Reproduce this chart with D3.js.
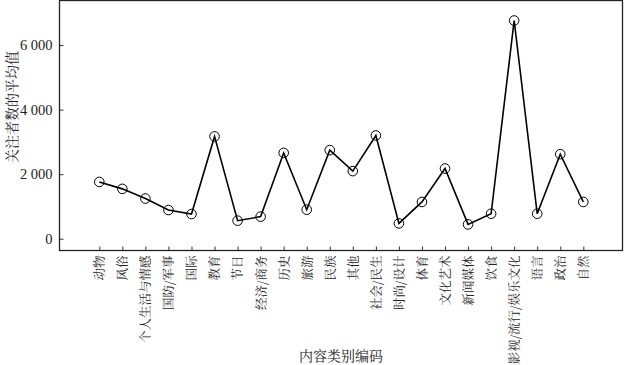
<!DOCTYPE html>
<html><head><meta charset="utf-8">
<script src="https://cdn.jsdelivr.net/npm/d3@7"></script>
<style>
html,body{margin:0;padding:0;background:#fff;}
text{font-family:"Liberation Serif","Noto Serif CJK SC","Noto Sans CJK SC",serif;fill:#222;}
</style></head>
<body>
<svg id="c" width="624" height="365"></svg>
<script>
const categories = ["动物","风俗","个人生活与情感","国防/军事","国际","教育","节日","经济/商务","历史","旅游","民族","其他","社会/民生","时尚/设计","体育","文化艺术","新闻媒体","饮食","影视/流行/娱乐文化","语言","政治","自然"];
const values = [1760,1545,1245,890,765,3170,560,685,2660,900,2745,2095,3200,475,1140,2175,445,775,6760,775,2620,1140];
const yTicks = [0,2000,4000,6000];
const xTitle = "内容类别编码";
const yTitle = "关注者数的平均值";

const svg = d3.select("#c");
const L=59.5, R=622.5, T=0.5, B=250.5;
const x = d3.scalePoint().domain(categories).range([99.3, 583.3]);
const y = d3.scaleLinear().domain([-364, 7380]).range([B, T]);

const fmt = v => d3.format(",")(v).replace(/,/g, " ");
const cjk = "'Noto Serif CJK SC','Noto Sans CJK SC',serif";

// axes
const xa = svg.append("g").attr("transform",`translate(0,${B})`)
  .call(d3.axisBottom(x).tickSizeInner(-4).tickSizeOuter(0).tickPadding(6));
xa.select(".domain").remove();
xa.selectAll(".tick line").attr("stroke","#333");
xa.selectAll(".tick text")
  .attr("transform","rotate(-90)")
  .attr("text-anchor","end")
  .attr("x",-5).attr("y",0).attr("dy","0.35em")
  .style("font-size","12.5px")
  .style("font-family",cjk);

const ya = svg.append("g").attr("transform",`translate(${L},0)`)
  .call(d3.axisLeft(y).tickValues(yTicks).tickFormat(fmt).tickSizeInner(-4).tickSizeOuter(0).tickPadding(7));
ya.select(".domain").remove();
ya.selectAll(".tick line").attr("stroke","#333");
ya.selectAll(".tick text").style("font-size","14.5px").style("font-family","'Liberation Serif',serif");

// frame
svg.append("rect").attr("x",L).attr("y",T).attr("width",R-L).attr("height",B-T)
  .attr("fill","none").attr("stroke","#222").attr("stroke-width",1.3);

// line
const line = d3.line().x((d,i)=>x(categories[i])).y(d=>y(d));
svg.append("path").datum(values).attr("d",line)
  .attr("fill","none").attr("stroke","#000").attr("stroke-width",1.6);
svg.selectAll("circle.pt").data(values).enter().append("circle")
  .attr("class","pt")
  .attr("cx",(d,i)=>x(categories[i])).attr("cy",d=>y(d)).attr("r",4.8)
  .attr("fill","none").attr("stroke","#000").attr("stroke-width",1);

// titles
svg.append("text").attr("x",(L+R)/2).attr("y",361).attr("text-anchor","middle")
  .style("font-size","14px").style("font-family",cjk).text(xTitle);
svg.append("text").attr("transform",`translate(12,107) rotate(-90)`).attr("text-anchor","middle")
  .attr("dy","0.35em")
  .style("font-size","14px").style("font-family",cjk).text(yTitle);
</script>
</body></html>
